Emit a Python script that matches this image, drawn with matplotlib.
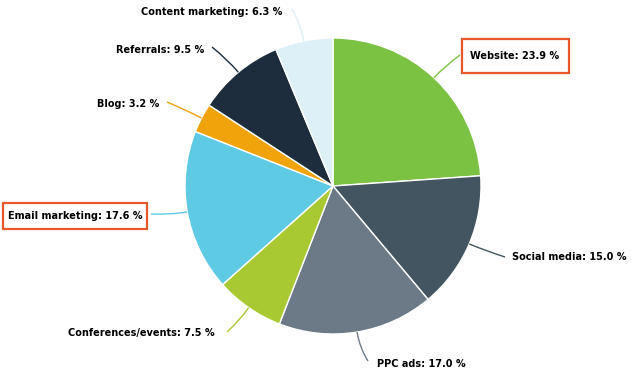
import numpy as np
import matplotlib
matplotlib.use("Agg")
import matplotlib.pyplot as plt
from matplotlib.path import Path
from matplotlib.patches import PathPatch, Rectangle

categories = ["Website", "Social media", "PPC ads", "Conferences/events",
              "Email marketing", "Blog", "Referrals", "Content marketing"]
values = [23.9, 15.0, 17.0, 7.5, 17.6, 3.2, 9.5, 6.3]
colors = ["#7cc242", "#435560", "#6b7a86", "#a9c932",
          "#5fcae4", "#f0a30a", "#1e2d3d", "#def0f7"]

W, H = 636, 376
fig = plt.figure(figsize=(W / 100, H / 100), dpi=100)
ax = fig.add_axes([0, 0, 1, 1])

cx, cy, R = 333, 186, 148
wedges, _ = ax.pie(values, colors=colors, startangle=-90, counterclock=True,
                   center=(cx, cy), radius=R, frame=True,
                   wedgeprops=dict(edgecolor="white", linewidth=1))
ax.set_xlim(0, W)
ax.set_ylim(H, 0)
ax.set_aspect("equal")
ax.axis("off")

# label layout (pixel coordinates, y downward)
label_end = [(460, 55), (505, 257), (368, 361), (227, 332),
             (151, 214), (167, 102), (212, 47), (292, 9)]
label_text = [(470, 56, "left"), (512, 257, "left"), (377, 364, "left"),
              (215, 333, "right"), (143, 216, "right"), (159, 104, "right"),
              (204, 50, "right"), (282, 12, "right")]
boxed = {"Website": (462, 39, 107, 34), "Email marketing": (3, 203, 144, 26)}

total = sum(values)
start = -90.0
for i, (name, v) in enumerate(zip(categories, values)):
    ang = start + v / total * 360 / 2
    start += v / total * 360
    a = np.deg2rad(ang)
    p0 = (cx + R * np.cos(a), cy + R * np.sin(a))
    p1 = (cx + (R + 16) * np.cos(a), cy + (R + 16) * np.sin(a))
    p2 = label_end[i]
    path = Path([p0, p1, p2], [Path.MOVETO, Path.CURVE3, Path.CURVE3])
    ax.add_patch(PathPatch(path, facecolor="none", edgecolor=colors[i], lw=1))
    tx, ty, ha = label_text[i]
    ax.text(tx, ty, f"{name}: {v:.1f} %", ha=ha, va="center",
            fontsize=7.05, fontweight="bold", color="#000000",
            family="DejaVu Sans")
    if name in boxed:
        bx, by, bw, bh = boxed[name]
        ax.add_patch(Rectangle((bx, by), bw, bh, facecolor="none",
                               edgecolor="#e8562a", lw=1.6))

fig.savefig("out.png", dpi=100)
